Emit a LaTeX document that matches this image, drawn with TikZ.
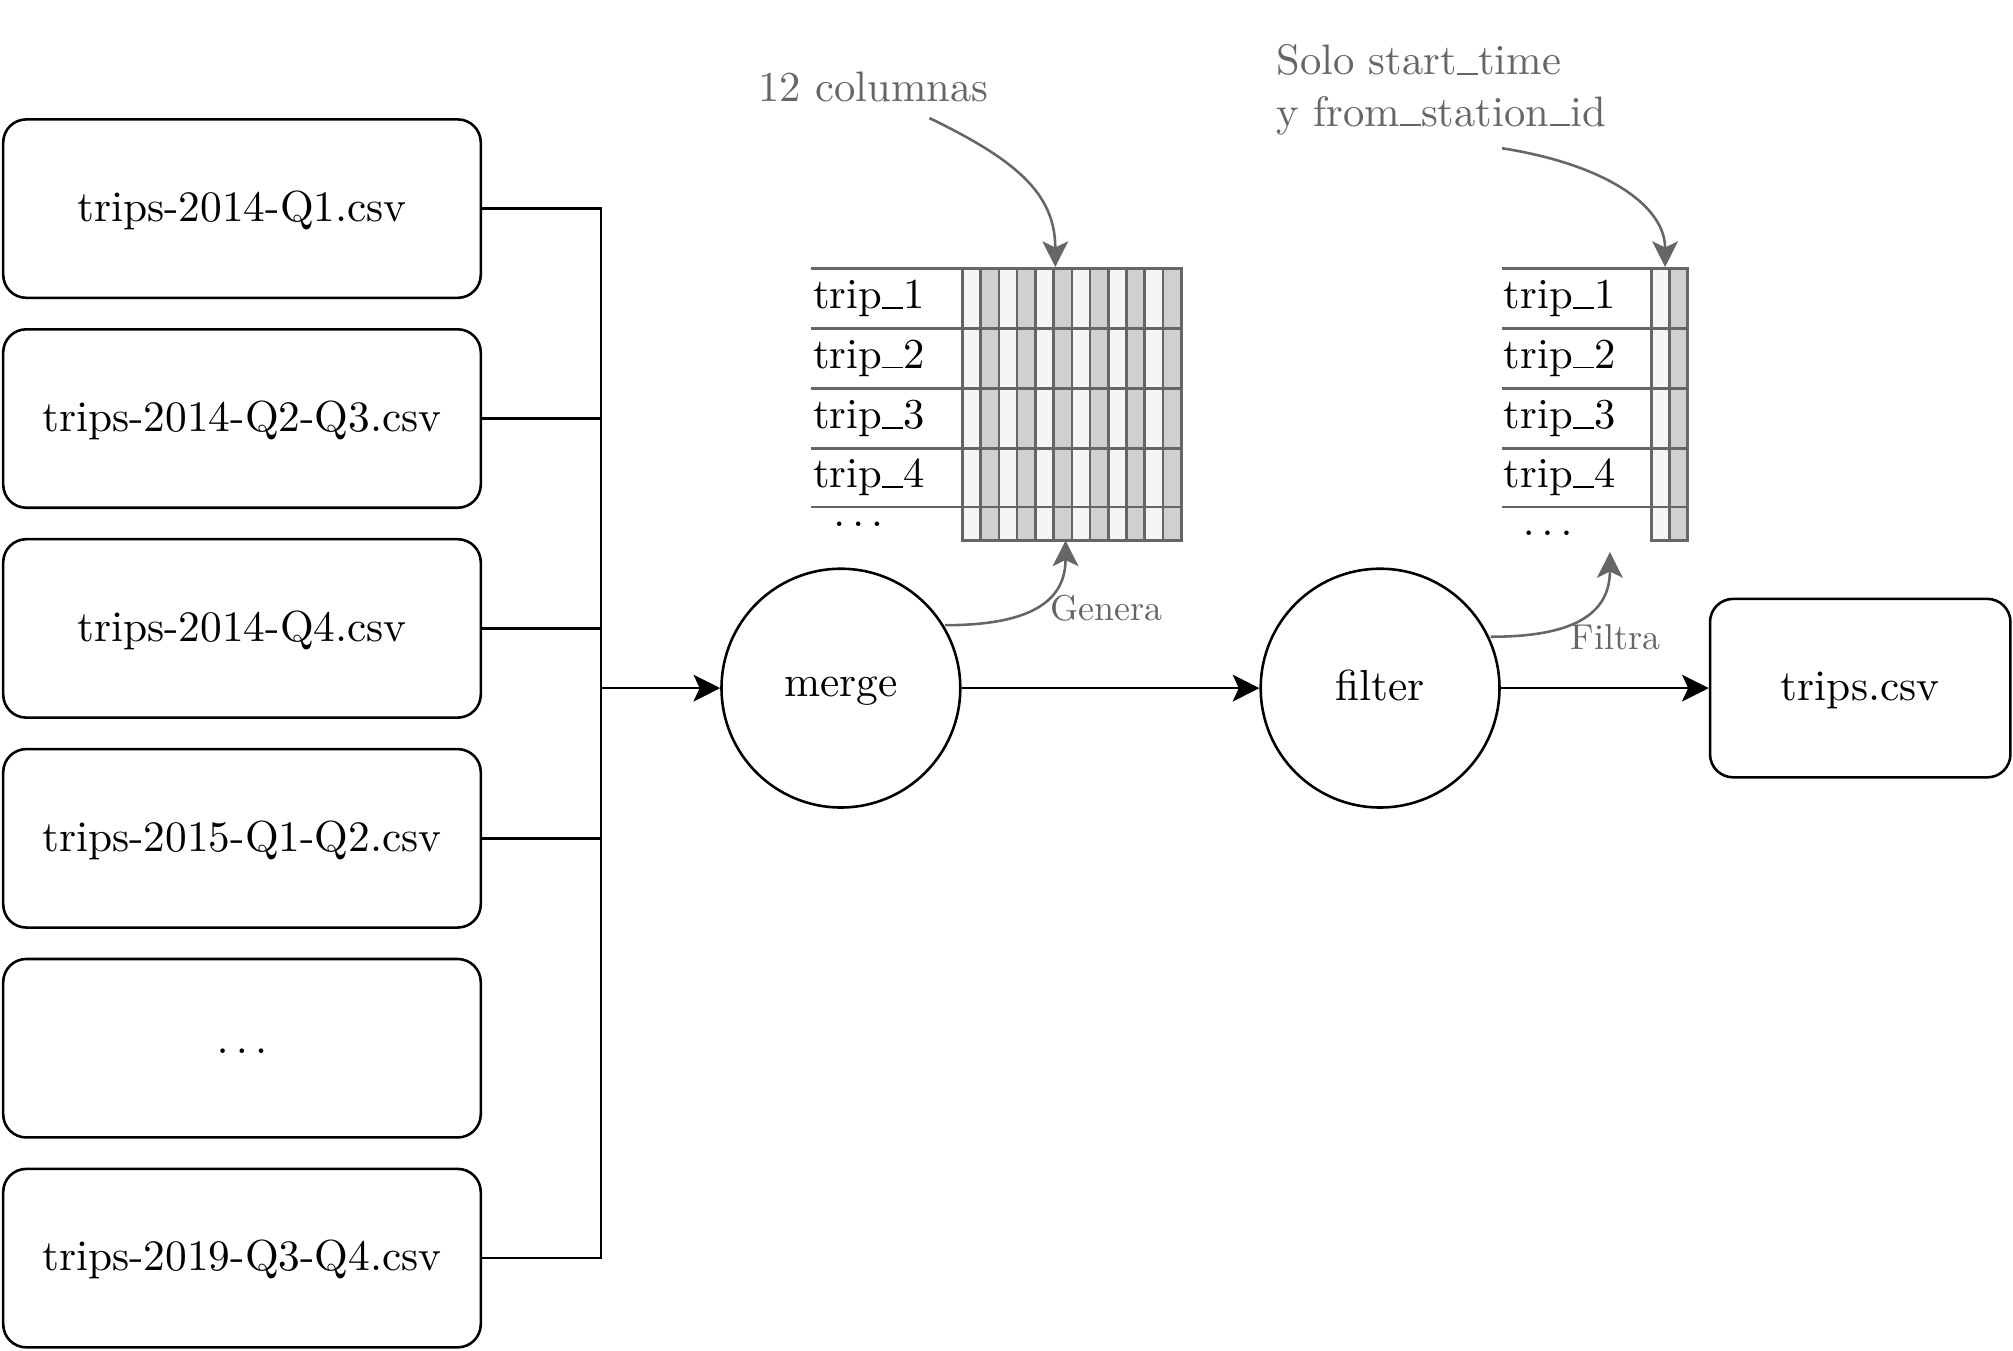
\documentclass[tikz,border=0pt]{standalone}
\usepackage{graphicx}
\usetikzlibrary{arrows.meta}
\definecolor{gtxt}{HTML}{666666}
\definecolor{clight}{HTML}{F5F5F5}
\definecolor{cdark}{HTML}{D0D0D0}
\newcommand{\bt}[1]{\scalebox{1.69}{#1}}
\newcommand{\mt}[1]{\scalebox{1.66}{#1}}
\newcommand{\st}[1]{\scalebox{1.4}{#1}}
\newcommand{\us}{\leavevmode\kern.01em\vbox{\hrule width .48em height .45pt}\kern.01em}
\begin{document}
\begin{tikzpicture}[x=0.5pt,y=-0.5pt,
  every node/.style={font=\fontsize{10}{12}\selectfont},
  filebox/.style={draw, line width=1pt, rounded corners=9pt, minimum width=186pt, minimum height=69.5pt, inner sep=0pt, text height=12pt, text depth=2pt},
  proc/.style={draw, line width=1pt, circle, minimum size=93pt, inner sep=0pt, text height=12pt, text depth=2pt},
  bline/.style={line width=1pt},
  barrow/.style={line width=1pt, -{Stealth[length=10.4pt,width=10.4pt,inset=2.4pt]}},
  garrow/.style={line width=1pt, draw=gtxt, -{Stealth[length=10pt,width=10pt,inset=2.4pt]}, fill=none},
  gline/.style={line width=1pt, draw=gtxt},
  cell/.style={line width=1pt, draw=gtxt},
  glabel/.style={text=gtxt, inner sep=0pt},
  rowlabel/.style={anchor=base west, inner sep=0pt}
]
\useasboundingbox (0,0) rectangle (1568,1052);

% input files
\node[filebox] (b1) at (188.5,162.5) {\bt{trips-2014-Q1.csv}};
\node[filebox] (b2) at (188.5,326) {\bt{trips-2014-Q2-Q3.csv}};
\node[filebox] (b3) at (188.5,489.5) {\bt{trips-2014-Q4.csv}};
\node[filebox] (b4) at (188.5,653) {\bt{trips-2015-Q1-Q2.csv}};
\node[filebox, text height=6pt, text depth=2pt] (b5) at (188.5,816.5) {\bt{$\ldots$}};
\node[filebox] (b6) at (188.5,980) {\bt{trips-2019-Q3-Q4.csv}};

% processes
\node[proc, text height=10pt, text depth=3.8pt] (merge) at (655,536) {\bt{merge}};
\node[proc] (filter) at (1075,536) {\bt{filter}};
\node[filebox, minimum width=117pt] (out) at (1449,536) {\bt{trips.csv}};

% bus
\coordinate (busT) at (468,162.5);
\coordinate (busB) at (468,980);
\draw[bline] (b1.east) -| (busB) -- (b6.east);
\draw[bline] (b2.east) -- (b2.east -| busT);
\draw[bline] (b3.east) -- (b3.east -| busT);
\draw[bline] (b4.east) -- (b4.east -| busT);
\draw[barrow] (merge.west -| busT) -- (merge.west);
\draw[barrow] (merge.east) -- (filter.west);
\draw[barrow] (filter.east) -- (out.west);

% table 1
\foreach \ya/\yb in {209/256,256/302.5,302.5/349.5,349.5/395,395/421}{
  \foreach \k in {0,2,...,10}{
    \draw[cell, fill=clight] ({749.7+14.2*\k},\ya) rectangle ({749.7+14.2*(\k+1)},\yb);
  }
  \foreach \k in {1,3,...,11}{
    \draw[cell, fill=cdark] ({749.7+14.2*\k},\ya) rectangle ({749.7+14.2*(\k+1)},\yb);
  }
}
\foreach \y in {209,256,302.5,349.5,395}{
  \draw[gline] (632,\y) -- (749.7,\y);
}
\node[rowlabel] (ta1) at (633,240.5) {\mt{trip\us1}};
\node[rowlabel] (ta2) at (633,287) {\mt{trip\us2}};
\node[rowlabel] (ta3) at (633,334) {\mt{trip\us3}};
\node[rowlabel] (ta4) at (633,380) {\mt{trip\us4}};
\node[anchor=base, inner sep=0pt] (ta5) at (668.5,410) {\mt{$\ldots$}};

% table 2
\foreach \ya/\yb in {209/256,256/302.5,302.5/349.5,349.5/395,395/421}{
  \draw[cell, fill=clight] (1286.6,\ya) rectangle (1300.4,\yb);
  \draw[cell, fill=cdark] (1300.4,\ya) rectangle (1314.3,\yb);
}
\foreach \y in {209,256,302.5,349.5,395}{
  \draw[gline] (1170,\y) -- (1286.6,\y);
}
\node[rowlabel] (tb1) at (1171,240.5) {\mt{trip\us1}};
\node[rowlabel] (tb2) at (1171,287) {\mt{trip\us2}};
\node[rowlabel] (tb3) at (1171,334) {\mt{trip\us3}};
\node[rowlabel] (tb4) at (1171,380) {\mt{trip\us4}};
\node[anchor=base, inner sep=0pt] (tb5) at (1205.5,417) {\mt{$\ldots$}};

% annotations
\node[glabel, anchor=base west] (cols) at (590.5,78.7) {\mt{12 columnas}};
\coordinate (colsS) at (724,92);
\coordinate (colsE) at (822,208);
\draw[garrow] (colsS) .. controls (790,124) and (822,150) .. (colsE);

\node[glabel, anchor=base west] (solo) at (994,58.4) {\mt{\fontsize{10}{12.05}\selectfont\begin{tabular}[t]{@{}l@{}}Solo start\us time\\y from\us station\us id\end{tabular}}};
\coordinate (soloS) at (1170,115.5);
\coordinate (soloE) at (1297,208);
\draw[garrow] (soloS) .. controls (1250,128) and (1297,160) .. (soloE);

\coordinate (genS) at (736,487);
\coordinate (genE) at (830,421);
\draw[garrow] (genS) .. controls (790,487) and (830,475) .. (genE);
\node[glabel, anchor=base west] (gen) at (818,483.5) {\st{Genera}};

\coordinate (filS) at (1161,496);
\coordinate (filE) at (1254,430);
\draw[garrow] (filS) .. controls (1215,496) and (1254,484) .. (filE);
\node[glabel, anchor=base west] (fil) at (1223,506.3) {\st{Filtra}};
\end{tikzpicture}
\end{document}
